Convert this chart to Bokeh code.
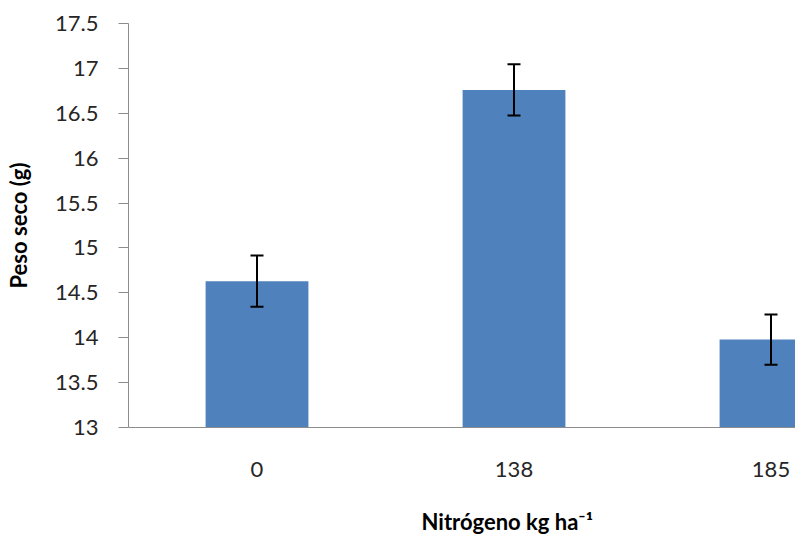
from bokeh.plotting import figure
from bokeh.models import Range1d, FixedTicker, Whisker, TeeHead, ColumnDataSource, Title
from bokeh.embed import file_html
from bokeh.resources import INLINE

# ---- data ----
categories = ["0", "138", "185"]
peso_seco = [14.63, 16.76, 13.98]
errores = [0.285, 0.285, 0.28]
y_ticks = [13, 13.5, 14, 14.5, 15, 15.5, 16, 16.5, 17, 17.5]
y_tick_labels = ["13", "13.5", "14", "14.5", "15", "15.5", "16", "16.5", "17", "17.5"]
y_title = "Peso seco (g)"
x_title = "Nitrógeno kg ha⁻¹"

FONT = "Lato"
xs = [i + 0.5 for i in range(len(categories))]
upper = [v + e for v, e in zip(peso_seco, errores)]
lower = [v - e for v, e in zip(peso_seco, errores)]
src = ColumnDataSource(dict(x=xs, top=peso_seco, upper=upper, lower=lower))

p = figure(width=795, height=536, output_backend="svg", toolbar_location=None,
           x_range=Range1d(0, 667 / 257), y_range=Range1d(13, 17.5),
           min_border_left=128, min_border_right=0, min_border_top=23, min_border_bottom=109)
p.outline_line_color = None
p.xgrid.visible = False
p.ygrid.visible = False

p.vbar(x="x", top="top", bottom=13, width=0.4, source=src,
       fill_color="#4F81BD", line_color=None)

w = Whisker(base="x", upper="upper", lower="lower", source=src, level="overlay",
            line_color="black", line_width=2,
            upper_head=TeeHead(size=13, line_color="black", line_width=2),
            lower_head=TeeHead(size=13, line_color="black", line_width=2))
p.add_layout(w)

# y axis
ya = p.yaxis[0]
ya.ticker = FixedTicker(ticks=y_ticks)
ya.major_label_overrides = {t: l for t, l in zip(y_ticks, y_tick_labels)}
ya.minor_tick_line_color = None
ya.major_tick_in = 0
ya.major_tick_out = 10
ya.axis_line_color = "#8c8c8c"
ya.major_tick_line_color = "#8c8c8c"
ya.major_label_text_font = FONT
ya.major_label_text_font_size = "22px"
ya.major_label_text_color = "#262626"
ya.major_label_standoff = 20
ya.axis_label = y_title
ya.axis_label_text_font = FONT
ya.axis_label_text_font_style = "bold"
ya.axis_label_text_font_size = "22px"
ya.axis_label_text_color = "black"
ya.axis_label_standoff = 20

# x axis
xa = p.xaxis[0]
xa.ticker = FixedTicker(ticks=xs)
xa.major_label_overrides = {x: c for x, c in zip(xs, categories)}
xa.minor_tick_line_color = None
xa.major_tick_in = 0
xa.major_tick_out = 0
xa.axis_line_color = "#8c8c8c"
xa.major_label_text_font = FONT
xa.major_label_text_font_size = "22px"
xa.major_label_text_color = "#262626"
xa.major_label_standoff = 34
# blank spacer label so the title sits lower
xa.axis_label = " "
xa.axis_label_text_font_size = "1px"
xa.axis_label_standoff = 22

# x title: centred on the middle category, as in the reference
p.add_layout(Title(text=x_title, align="left", offset=293, vertical_align="bottom",
                   standoff=0, text_font=FONT, text_font_style="bold",
                   text_font_size="22px", text_color="black"), "below")

open("out.html", "w").write(file_html(p, INLINE))
